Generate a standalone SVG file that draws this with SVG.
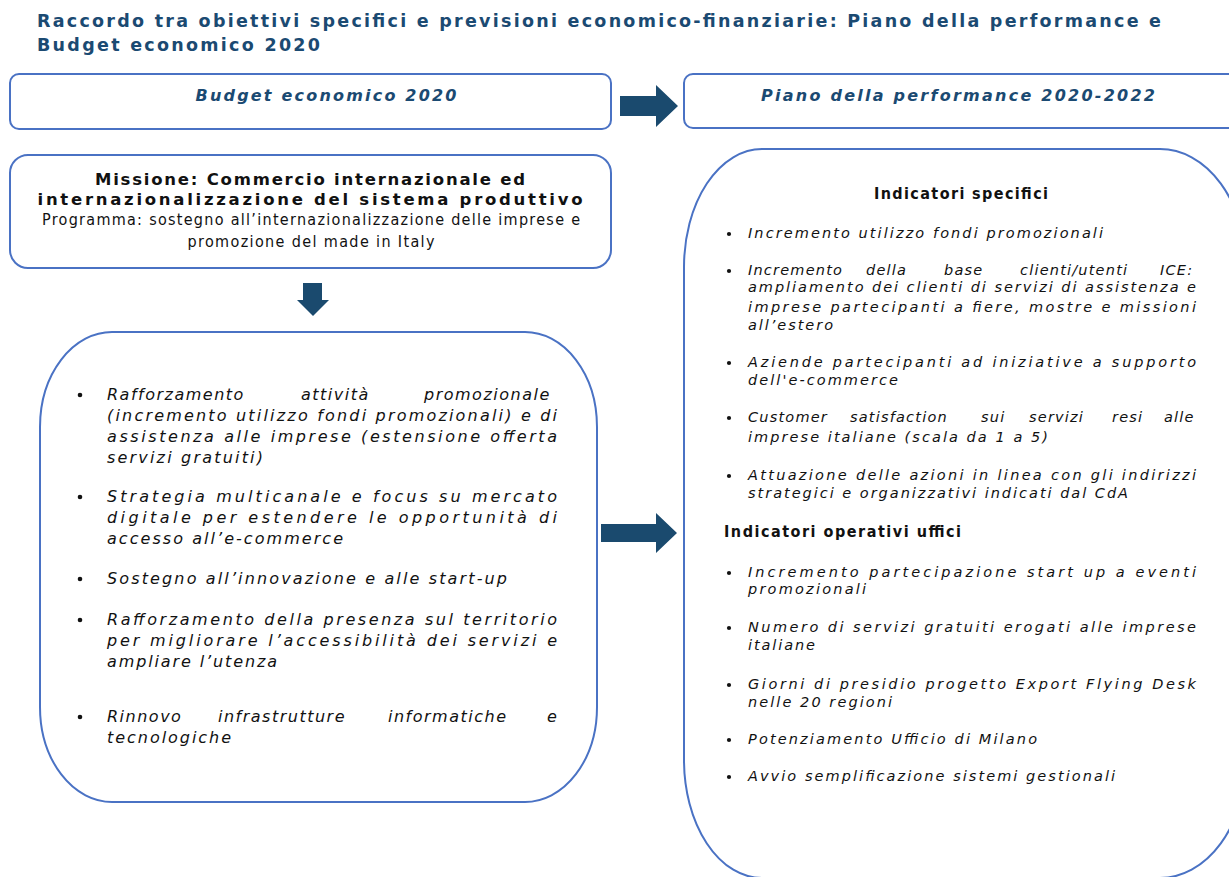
<svg xmlns="http://www.w3.org/2000/svg" width="1229" height="877" viewBox="0 0 1229 877">
<style>
.box{fill:#fff;stroke:#4a72c4;stroke-width:2}
.title{font-family:"DejaVu Sans",Verdana,sans-serif;font-weight:bold;font-size:17.5px;fill:#1b4a72}
.hdr{font-family:"DejaVu Sans",Verdana,sans-serif;font-weight:bold;font-style:italic;font-size:16px;fill:#1b4a72;text-anchor:middle}
.mis{font-family:"DejaVu Sans",Verdana,sans-serif;font-weight:bold;font-size:16.5px;fill:#111;text-anchor:middle}
.prog{font-family:"DejaVu Sans Condensed","DejaVu Sans",sans-serif;font-size:16px;fill:#111;text-anchor:middle}
.li{font-family:"DejaVu Sans",Verdana,sans-serif;font-style:italic;font-size:16px;fill:#111}
.ri{font-family:"DejaVu Sans",Verdana,sans-serif;font-style:italic;font-size:14.5px;fill:#111}
.lsl{letter-spacing:1.5px}
.lsr{letter-spacing:1.2px}
.hd{font-family:"DejaVu Sans Condensed","DejaVu Sans",sans-serif;font-weight:bold;font-size:16px;fill:#111}
.bul{fill:#111}
.arr{fill:#1a4a6e}
</style>

<g id="title">
<text class="title" x="37" y="27" textLength="1124" lengthAdjust="spacing">Raccordo tra obiettivi specifici e previsioni economico-finanziarie: Piano della performance e</text>
<text class="title" x="37" y="51" textLength="283" lengthAdjust="spacing">Budget economico 2020</text>
</g>

<g id="header-budget">
<rect class="box" x="10" y="74" width="601" height="55" rx="9"/>
<text class="hdr" x="326" y="101" textLength="261" lengthAdjust="spacing">Budget economico 2020</text>
</g>

<g id="header-piano">
<rect class="box" x="684" y="74" width="570" height="54" rx="9"/>
<text class="hdr" x="958" y="101" textLength="394" lengthAdjust="spacing">Piano della performance 2020-2022</text>
</g>

<g id="missione">
<rect class="box" x="10" y="155" width="601" height="113" rx="18"/>
<text class="mis" x="310" y="185" textLength="430" lengthAdjust="spacing">Missione: Commercio internazionale ed</text>
<text class="mis" x="310" y="205" textLength="545" lengthAdjust="spacing">internazionalizzazione del sistema produttivo</text>
<text class="prog" x="311" y="225" textLength="538" lengthAdjust="spacing">Programma: sostegno all’internazionalizzazione delle imprese e</text>
<text class="prog" x="311" y="247" textLength="247" lengthAdjust="spacing">promozione del made in Italy</text>
</g>

<g id="budget-obiettivi">
<path class="box" d="M112,332 H525 A72,95 0 0 1 597,427 V707 A72,95 0 0 1 525,802 H112 A72,95 0 0 1 40,707 V427 A72,95 0 0 1 112,332 Z"/>
<g class="bul">
<circle cx="80" cy="395" r="2.3"/>
<circle cx="80" cy="497" r="2.3"/>
<circle cx="80" cy="579" r="2.3"/>
<circle cx="80" cy="620" r="2.3"/>
<circle cx="80" cy="717" r="2.3"/>
</g>
<text class="li lsl" y="400"><tspan x="107">Rafforzamento</tspan><tspan x="301">attività</tspan><tspan x="424">promozionale</tspan></text>
<text class="li" x="107" y="421" textLength="450" lengthAdjust="spacing">(incremento utilizzo fondi promozionali) e di</text>
<text class="li" x="107" y="442" textLength="450" lengthAdjust="spacing">assistenza alle imprese (estensione offerta</text>
<text class="li" x="107" y="463" textLength="156" lengthAdjust="spacing">servizi gratuiti)</text>
<text class="li" x="107" y="502" textLength="450" lengthAdjust="spacing">Strategia multicanale e focus su mercato</text>
<text class="li" x="107" y="523" textLength="450" lengthAdjust="spacing">digitale per estendere le opportunità di</text>
<text class="li" x="107" y="544" textLength="236" lengthAdjust="spacing">accesso all’e-commerce</text>
<text class="li" x="107" y="584" textLength="400" lengthAdjust="spacing">Sostegno all’innovazione e alle start-up</text>
<text class="li" x="107" y="625" textLength="450" lengthAdjust="spacing">Rafforzamento della presenza sul territorio</text>
<text class="li" x="107" y="646" textLength="450" lengthAdjust="spacing">per migliorare l’accessibilità dei servizi e</text>
<text class="li" x="107" y="667" textLength="170" lengthAdjust="spacing">ampliare l’utenza</text>
<text class="li lsl" y="722"><tspan x="107">Rinnovo</tspan><tspan x="218">infrastrutture</tspan><tspan x="388">informatiche</tspan><tspan x="547">e</tspan></text>
<text class="li" x="107" y="743" textLength="124" lengthAdjust="spacing">tecnologiche</text>
</g>

<g id="piano-indicatori">
<path class="box" d="M762,149 H1160 A86,118 0 0 1 1246,267 V760 A86,118 0 0 1 1160,878 H762 A78,118 0 0 1 684,760 V267 A78,118 0 0 1 762,149 Z"/>
<text class="hd" x="874" y="199" textLength="174" lengthAdjust="spacing">Indicatori specifici</text>
<g class="bul">
<circle cx="729" cy="234" r="2.1"/>
<circle cx="729" cy="271" r="2.1"/>
<circle cx="729" cy="363" r="2.1"/>
<circle cx="729" cy="418" r="2.1"/>
<circle cx="729" cy="476" r="2.1"/>
<circle cx="729" cy="573" r="2.1"/>
<circle cx="729" cy="628" r="2.1"/>
<circle cx="729" cy="685" r="2.1"/>
<circle cx="729" cy="740" r="2.1"/>
<circle cx="729" cy="777" r="2.1"/>
</g>
<text class="ri" x="748" y="238" textLength="355" lengthAdjust="spacing">Incremento utilizzo fondi promozionali</text>
<text class="ri lsr" y="275"><tspan x="748">Incremento</tspan><tspan x="866">della</tspan><tspan x="944">base</tspan><tspan x="1020">clienti/utenti</tspan><tspan x="1160">ICE:</tspan></text>
<text class="ri" x="748" y="292" textLength="448" lengthAdjust="spacing">ampliamento dei clienti di servizi di assistenza e</text>
<text class="ri" x="748" y="312" textLength="448" lengthAdjust="spacing">imprese partecipanti a fiere, mostre e missioni</text>
<text class="ri" x="748" y="330" textLength="85" lengthAdjust="spacing">all’estero</text>
<text class="ri" x="748" y="367" textLength="448" lengthAdjust="spacing">Aziende partecipanti ad iniziative a supporto</text>
<text class="ri" x="748" y="385" textLength="150" lengthAdjust="spacing">dell'e-commerce</text>
<text class="ri lsr" y="422"><tspan x="748">Customer</tspan><tspan x="850">satisfaction</tspan><tspan x="981">sui</tspan><tspan x="1029">servizi</tspan><tspan x="1112">resi</tspan><tspan x="1164">alle</tspan></text>
<text class="ri" x="748" y="442" textLength="300" lengthAdjust="spacing">imprese italiane (scala da 1 a 5)</text>
<text class="ri" x="748" y="480" textLength="448" lengthAdjust="spacing">Attuazione delle azioni in linea con gli indirizzi</text>
<text class="ri" x="748" y="498" textLength="380" lengthAdjust="spacing">strategici e organizzativi indicati dal CdA</text>
<text class="hd" x="724" y="537" textLength="237" lengthAdjust="spacing">Indicatori operativi uffici</text>
<text class="ri" x="748" y="577" textLength="448" lengthAdjust="spacing">Incremento partecipazione start up a eventi</text>
<text class="ri" x="748" y="594" textLength="118" lengthAdjust="spacing">promozionali</text>
<text class="ri" x="748" y="632" textLength="448" lengthAdjust="spacing">Numero di servizi gratuiti erogati alle imprese</text>
<text class="ri" x="748" y="650" textLength="67" lengthAdjust="spacing">italiane</text>
<text class="ri" x="748" y="689" textLength="448" lengthAdjust="spacing">Giorni di presidio progetto Export Flying Desk</text>
<text class="ri" x="748" y="707" textLength="144" lengthAdjust="spacing">nelle 20 regioni</text>
<text class="ri" x="748" y="744" textLength="289" lengthAdjust="spacing">Potenziamento Ufficio di Milano</text>
<text class="ri" x="748" y="781" textLength="367" lengthAdjust="spacing">Avvio semplificazione sistemi gestionali</text>
</g>

<g id="connectors">
<polygon class="arr" points="620,96 656,96 656,85 678,106 656,127 656,116 620,116"/>
<polygon class="arr" points="303,283 322,283 322,300 329,300 313,316 297,300 303,300"/>
<polygon class="arr" points="601,524 656,524 656,513 677,533 656,553 656,542 601,542"/>
</g>
</svg>
